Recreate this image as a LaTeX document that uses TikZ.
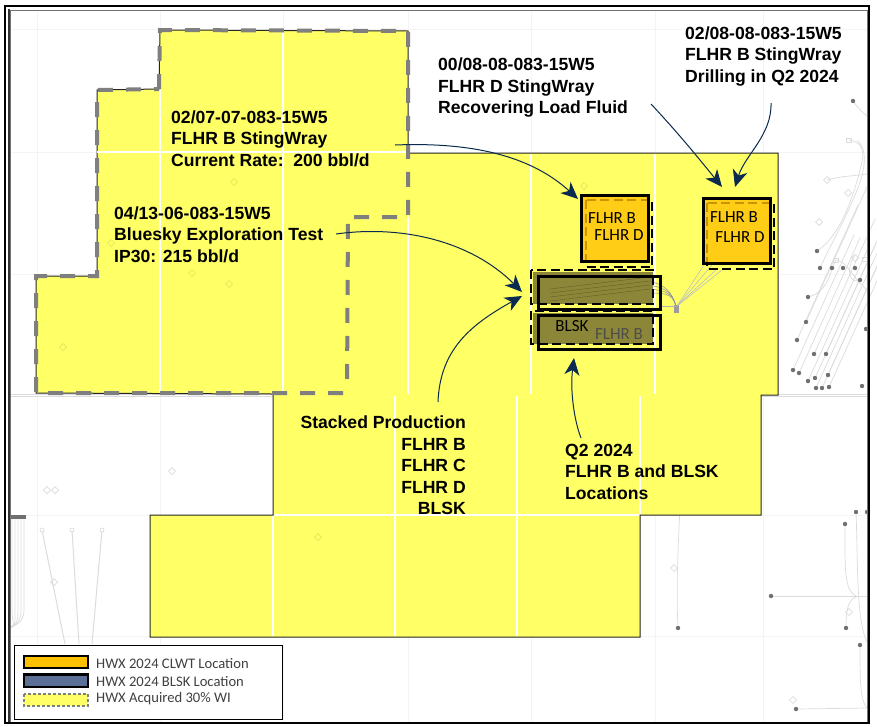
\documentclass[tikz,border=0pt]{standalone}
\usepackage{fontspec}
\setmainfont{Liberation Sans}
\newfontfamily\legendfont{Carlito}
\usetikzlibrary{arrows.meta}
\definecolor{acreyellow}{HTML}{FFFF66}
\definecolor{locorange}{HTML}{FFC000}
\definecolor{navyline}{HTML}{0B2A4F}
\definecolor{dashgrey}{HTML}{7F7F7F}
\definecolor{mapgrey}{HTML}{DCDCDC}
\definecolor{gridgrey}{HTML}{F4F4F4}
\definecolor{welldot}{HTML}{707070}
\definecolor{stripolive}{HTML}{8C8738}
\definecolor{blueloc}{HTML}{5B6F96}
\definecolor{faintdiamond}{HTML}{E4E45C}
\tikzset{
  callout/.style={inner sep=0pt,font=\fontsize{17.6}{21.5}\selectfont\bfseries,align=left},
  calloutright/.style={callout,align=right},
  curveline/.style={navyline,line width=1pt,-{Stealth[length=17pt,width=15pt,inset=5pt]}},
  solidbox/.style={draw=black,line width=2.7pt,inner sep=0pt},
  dashbox/.style={draw=black,line width=2.7pt,dash pattern=on 9pt off 4.5pt},
  acredash/.style={draw=dashgrey,line width=4pt,dash pattern=on 15pt off 13pt},
  gridline/.style={white,line width=1.5pt},
  mapline/.style={mapgrey,line width=.7pt},
  faintline/.style={gridgrey,line width=1pt},
  locword/.style={inner sep=0pt,font=\legendfont\fontsize{17}{17}\selectfont},
  legendword/.style={inner sep=0pt,anchor=west,text=black!75,font=\legendfont\fontsize{14.6}{14.6}\selectfont},
  dotwell/.style={fill=welldot,draw=none},
  hollowwell/.style={draw=mapgrey,line width=.7pt,fill=none},
  acrewell/.style={draw=faintdiamond,line width=.7pt,fill=none},
}
\newcommand{\welldots}[1]{\foreach \p in {#1}{\fill[dotwell] \p circle (2.2pt);}}
\newcommand{\diamondmark}[1]{\foreach \p in {#1}{\draw[hollowwell] \p +(-3.5pt,0pt) -- +(0pt,-3.5pt) -- +(3.5pt,0pt) -- +(0pt,3.5pt) -- cycle;}}
\newcommand{\acremark}[1]{\foreach \p in {#1}{\draw[acrewell] \p +(-3.5pt,0pt) -- +(0pt,-3.5pt) -- +(3.5pt,0pt) -- +(0pt,3.5pt) -- cycle;}}
\begin{document}
\begin{tikzpicture}[x=1pt,y=-1pt]
\useasboundingbox (0,0) rectangle (877,726);
\fill[white] (0,0) rectangle (877,726);

% faint section grid of the base map
\foreach \y in {29,152,274,515,636}{\draw[faintline] (10,\y) -- (868,\y);}
\foreach \x in {37,160,283,408,531,655,763}{\draw[faintline] (\x,10) -- (\x,722);}
\draw[mapgrey,line width=1pt] (10,396) -- (868,396);
\draw[mapgrey,line width=1pt] (10,394) -- (868,394);

% wells, right side
\draw[mapline] (853,101) .. controls (858,108) and (862,112) .. (867,116);
\draw[mapline] (849,140) .. controls (862,142) and (866,150) .. (860,170) .. controls (850,210) and (835,240) .. (817,251);
\draw[mapline] (857,140) .. controls (868,150) and (866,170) .. (855,195) .. controls (845,220) and (828,250) .. (820,268);
\draw[mapline] (827,180) .. controls (840,176) and (855,176) .. (867,174);
\draw[mapline] (808,297) .. controls (820,294) and (828,285) .. (832,268) -- (836,260);
\foreach \a/\b in {806/322,797/340,793/370,799/373,808/381,815/378,814/354,826/354,828/375,816/388,822/388,829/387}{
  \draw[mapline] (\a,\b) -- +(61,-135);}
\draw[mapline] (836,260) .. controls (848,262) and (850,275) .. (867,290);
\draw[mapline] (860,280) .. controls (850,285) and (845,270) .. (855,255);
\welldots{(853,101),(817,251),(820,268),(832,268),(843,268),(855,268),(860,280),(808,297),(806,322),(797,340),(814,354),(826,354),(793,370),(799,373),(808,381),(815,378),(828,375),(816,388),(822,388),(829,387),(862,386),(866,329)}
\draw[hollowwell] (846,138) rectangle (851,142);
\draw[hollowwell] (833,258) rectangle (838,262);
\draw[hollowwell] (862,257) rectangle (867,261);
\diamondmark{(827,180),(848,193),(819,222),(855,258)}

% wells, lower right
\draw[mapline] (678,628) .. controls (676,590) and (678,550) .. (680,507);
\draw[mapline] (845,524) .. controls (845,570) and (844,590) .. (856,596);
\draw[mapline] (771,596) -- (868,596);
\draw[mapline] (846,628) .. controls (846,610) and (848,600) .. (856,597);
\draw[mapline] (856,512) .. controls (858,560) and (856,620) .. (867,642);
\draw[mapline] (860,645) .. controls (860,680) and (860,700) .. (867,708);
\draw[mapline] (796,709) -- (868,708);
\welldots{(856,512),(867,512),(845,524),(771,596),(846,628),(678,628),(860,645),(796,709)}
\diamondmark{(674,568),(849,612),(793,700)}

% wells, lower left
\foreach \x in {12,15,18,21,24}{\draw[mapline] (\x,518) -- (\x,610) .. controls (\x,622) and (16,625) .. (10,628);}
\fill[welldot] (10,515) rectangle (26,519);
\draw[mapline,line width=1pt] (42,530) -- (65,644);
\draw[mapline,line width=1pt] (72,530) -- (79,644);
\draw[mapline,line width=1pt] (102,530) -- (92,644);
\foreach \x in {42,72,102}{\draw[hollowwell,fill=white] (\x,530) circle (2pt);}
\diamondmark{(54,582),(47,490),(55,490),(172,471)}

% acreage
\fill[acreyellow,draw=black!85,line width=1pt] (160,30) -- (408,31) -- (408,153) -- (778,153) -- (778,395) -- (761,395) -- (761,515) -- (640,515) -- (640,637) -- (150,637) -- (150,515) -- (273,515) -- (273,394) -- (36,393) -- (36,276) -- (97,276) -- (97,90) -- (159,89) -- cycle;
\foreach \a/\b/\c/\d in {283/31/283/393,160/90/160/393,408/217/408/394,531/154/531/394,655/154/655/394,97/152/408/152,395/396/395/636,517/396/517/636,640/396/640/514,273/516/273/636,274/515/639/515}{
  \draw[gridline] (\a,\b) -- (\c,\d);}
\draw[acredash] (159,89) -- (160,30) -- (408,31) -- (408,217) -- (348,217) -- (347,390);
\draw[acredash] (343,393) -- (36,393) -- (36,276) -- (97,276) -- (97,90) -- (159,89);
\acremark{(234,182),(111,243),(192,273),(229,284),(63,347),(318,537),(584,186)}

% well trajectories on the pad
\fill[welldot!70] (674,305) rectangle (679,313);
\foreach \y/\k in {281/.6,285/.7,289/.8,293/.9}{
  \draw[black!40,line width=.6pt] (676,306) .. controls (672,292) and (664,\y) .. (640,\y);}
\foreach \x/\y in {706/262,712/265,718/268,722/270}{\draw[black!25,line width=.6pt] (677,306) -- (\x,\y);}
\draw[black!30,line width=.5pt] (660,306) -- (676,306);

% locations
\draw[dashbox] (586,200) rectangle (652,267);
\draw[dashbox] (707,203) rectangle (774,269);
\node[solidbox,fill=locorange,fill opacity=.78,text opacity=1,minimum width=67pt,minimum height=66pt,anchor=north west] (boxa) at (580,194) {};
\node[solidbox,fill=locorange,fill opacity=.78,text opacity=1,minimum width=67pt,minimum height=65pt,anchor=north west] (boxb) at (702,197) {};
\fill[stripolive] (533,272) rectangle (653,304);
\fill[stripolive] (533,313) rectangle (653,344);
\foreach \y in {277,281,285,289}{\draw[stripolive!75!black,line width=.5pt] (550,\y+12) -- (650,\y);}
\node[solidbox,minimum width=122pt,minimum height=33pt,anchor=north west] (stripa) at (537,275) {};
\node[solidbox,minimum width=122pt,minimum height=34pt,anchor=north west] (stripb) at (537,314) {};
\draw[dashbox] (531,270) rectangle (653,304);
\draw[dashbox] (531,311) rectangle (653,344);

\node[locword] (wa) at (612,218) {FLHR B};
\node[locword] (wb) at (619,235) {FLHR D};
\node[locword] (wc) at (734,217) {FLHR B};
\node[locword] (wd) at (740,237) {FLHR D};
\node[locword] (we) at (572,326) {BLSK};
\node[locword,text=black!70] (wf) at (619,334) {FLHR B};

% callouts
\node[callout,anchor=west] (la) at (171,138.5) {02/07-07-083-15W5\\FLHR B StingWray\\Current Rate:\ \ 200 bbl/d};
\node[callout,anchor=west] (lb) at (114,234.5) {04/13-06-083-15W5\\Bluesky Exploration Test\\IP30: 215 bbl/d};
\node[callout,anchor=west] (lc) at (438,87.5) {00/08-08-083-15W5\\FLHR D StingWray\\Recovering Load Fluid};
\node[callout,anchor=west] (ld) at (685,56) {02/08-08-083-15W5\\FLHR B StingWray\\Drilling in Q2 2024};
\node[calloutright,anchor=east] (le) at (466,465.5) {Stacked Production\\FLHR B\\FLHR C\\FLHR D\\BLSK};
\node[callout,anchor=west] (lf) at (565,471.5) {Q2 2024\\FLHR B and BLSK\\Locations};

\coordinate (sa) at (395,145);
\coordinate (sb) at (336,234);
\coordinate (sc) at (438,402);
\coordinate (sd) at (651,104);
\coordinate (se) at (771,103);
\coordinate (sf) at (581,438);
\coordinate (ea) at (578,199);
\coordinate (eb) at (522,292);
\coordinate (ec) at (522,296);
\coordinate (ed) at (722,187);
\coordinate (ee) at (735,187);
\coordinate (ef) at (574,358);
\draw[curveline] (sa) .. controls (470,142) and (530,155) .. (ea);
\draw[curveline] (sb) .. controls (400,225) and (470,240) .. (eb);
\draw[curveline] (sc) .. controls (440,350) and (470,325) .. (ec);
\draw[curveline] (sd) .. controls (680,135) and (700,160) .. (ed);
\draw[curveline] (se) .. controls (772,135) and (745,155) .. (ee);
\draw[curveline] (sf) .. controls (574,420) and (570,390) .. (ef);

% frame
\draw[black!55,line width=1pt] (10,10) rectangle (867,722);
\draw[black,line width=2.2pt] (5,6) -- (869,6) -- (869,723) -- (5,723) -- cycle;
\draw[black!80,line width=1.2pt] (9,9) -- (9,722);

% legend
\node[draw=black,fill=white,line width=1pt,minimum width=268pt,minimum height=74pt,inner sep=0pt,anchor=north west] (legendbox) at (14,644.5) {};
\draw[black,line width=2.6pt,fill=locorange] (24,656) rectangle (88,668);
\draw[black,line width=2.6pt,fill=blueloc] (24,674.5) rectangle (88,687);
\draw[dashgrey,line width=1.2pt,fill=acreyellow,dash pattern=on 3pt off 2pt] (24,694) rectangle (88,706);
\node[legendword] (lega) at (96,663) {HWX 2024 CLWT Location};
\node[legendword] (legb) at (96,681) {HWX 2024 BLSK Location};
\node[legendword] (legc) at (96,698.5) {HWX Acquired 30\% WI};
\end{tikzpicture}
\end{document}
